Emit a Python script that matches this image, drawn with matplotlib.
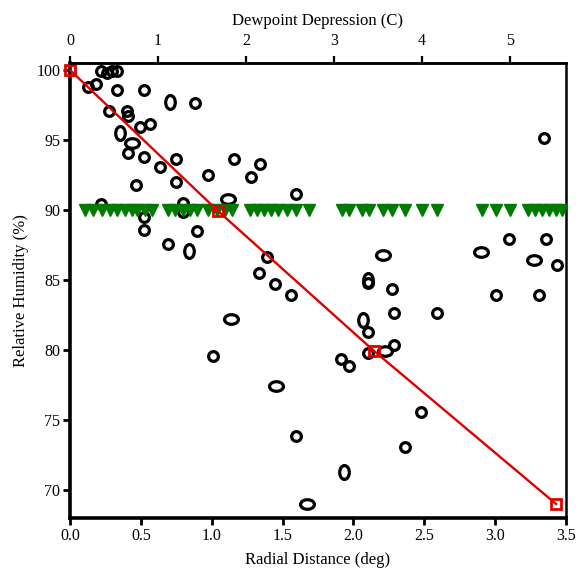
import matplotlib
matplotlib.use("Agg")
import matplotlib.pyplot as plt
from matplotlib.path import Path
from matplotlib.transforms import Affine2D

plt.rcParams['font.family'] = ['Liberation Serif', 'DejaVu Serif']

# observed points: radial distance (deg) vs relative humidity (%)
obs_x = [0.125, 0.183, 0.217, 0.259, 0.294, 0.334, 0.334, 0.524, 0.708, 0.880,
         0.277, 0.400, 0.409, 0.355, 0.496, 0.565, 0.440, 0.409, 0.522, 0.746,
         0.633, 1.157, 0.972, 0.748, 0.466, 1.275, 1.341, 1.115, 0.221, 0.797,
         0.797, 0.522, 0.522, 1.595, 3.343, 0.689, 0.842, 0.898, 1.334, 1.134,
         1.009, 1.388, 1.445, 1.557, 2.207, 2.101, 2.101, 2.270, 2.289, 2.592,
         2.066, 2.101, 2.221, 2.289, 2.101, 1.912, 1.969, 3.098, 3.361, 2.901,
         3.277, 3.439, 3.004, 3.308, 1.454, 1.593, 1.670, 2.477, 2.364, 1.934]
obs_y = [98.81, 99.0, 99.95, 99.76, 99.95, 99.95, 98.59, 98.59, 97.74, 97.66,
         97.09, 97.07, 96.71, 95.48, 95.95, 96.14, 94.81, 94.05, 93.81, 93.64,
         93.09, 93.64, 92.5, 91.98, 91.79, 92.34, 93.26, 90.79, 90.43, 90.48,
         89.88, 89.48, 88.54, 91.16, 95.16, 87.57, 87.07, 88.52, 85.48, 82.21,
         79.57, 86.62, 84.71, 83.93, 86.81, 85.0, 84.76, 84.34, 82.62, 82.62,
         82.14, 81.26, 79.95, 80.34, 79.76, 79.38, 78.88, 87.93, 87.93, 86.98,
         86.43, 86.05, 83.95, 83.95, 77.45, 73.86, 69.0, 75.55, 73.07, 71.26]
# which points are drawn as stretched ellipses
wide_pts = [16, 27, 39, 44, 52, 59, 60, 64, 66]
tall_pts = [8, 13, 36, 45, 50, 69]

# radial distances of the 90% threshold markers
thresh_x = [0.106, 0.164, 0.224, 0.282, 0.330, 0.388, 0.435, 0.471, 0.529, 0.577,
            0.692, 0.741, 0.797, 0.847, 0.896, 0.974, 1.037, 1.094, 1.143,
            1.270, 1.320, 1.369, 1.419, 1.468, 1.531, 1.595, 1.687,
            1.920, 1.969, 2.061, 2.110, 2.209, 2.272, 2.364, 2.484, 2.590,
            2.908, 3.006, 3.105, 3.232, 3.282, 3.331, 3.380, 3.430, 3.472]
thresh_y = [90.0] * len(thresh_x)

# reference curve
curve_x = [0.0, 1.042, 2.143, 3.43]
curve_y = [100.0, 89.95, 79.95, 69.0]

top_ticks = [0, 1, 2, 3, 4, 5]
x_range = (0.0, 3.5)
y_range = (68.0, 100.5)
top_range = (0.0, 5.636)


def ellipse_marker(sx, sy):
    return Path.unit_circle().transformed(Affine2D().scale(sx, sy))


fig = plt.figure(figsize=(5.79, 5.71), dpi=100)
ax = fig.add_axes([70 / 579, 1 - 518 / 571, 496 / 579, 455 / 571])

special = set(wide_pts) | set(tall_pts)
round_pts = [i for i in range(len(obs_x)) if i not in special]
groups = [(round_pts, 'o', 7.0), (wide_pts, ellipse_marker(1.45, 1.0), 10.0),
          (tall_pts, ellipse_marker(1.0, 1.45), 10.0)]
for idx, mk, ms in groups:
    ax.plot([obs_x[i] for i in idx], [obs_y[i] for i in idx], linestyle='none',
            marker=mk, markersize=ms, markerfacecolor='none',
            markeredgecolor='black', markeredgewidth=2.3, zorder=3)

ax.plot(thresh_x, thresh_y, linestyle='none', marker='v', markersize=8.5,
        color='#007a00', zorder=4)
ax.plot(curve_x, curve_y, color='#dd0000', linewidth=1.7, marker='s',
        markersize=7.5, markerfacecolor='none', markeredgewidth=2.0,
        clip_on=False, zorder=5)

ax.set_xlim(*x_range)
ax.set_ylim(*y_range)
ax.set_xticks([0.0, 0.5, 1.0, 1.5, 2.0, 2.5, 3.0, 3.5])
ax.set_yticks([70, 75, 80, 85, 90, 95, 100])
ax.set_xlabel("Radial Distance (deg)", fontsize=12, labelpad=6)
ax.set_ylabel("Relative Humidity (%)", fontsize=12, labelpad=5)
ax.tick_params(axis='both', labelsize=11.5, direction='out', length=5, width=2)
ax.tick_params(axis='x', pad=2)
ax.tick_params(axis='y', pad=2)
ax.tick_params(right=False, top=False)
for side in ['left', 'bottom']:
    ax.spines[side].set_linewidth(2.6)
for side in ['top', 'right']:
    ax.spines[side].set_linewidth(1.8)

top = ax.twiny()
top.set_xlim(*top_range)
top.set_xticks(top_ticks)
top.set_xlabel("Dewpoint Depression (C)", fontsize=12, labelpad=6)
top.tick_params(axis='x', labelsize=11.5, direction='out', length=5, width=1.6, pad=5)
for side in ['left', 'bottom', 'right']:
    top.spines[side].set_visible(False)
top.spines['top'].set_linewidth(1.8)

fig.savefig("out.png", dpi=100)
